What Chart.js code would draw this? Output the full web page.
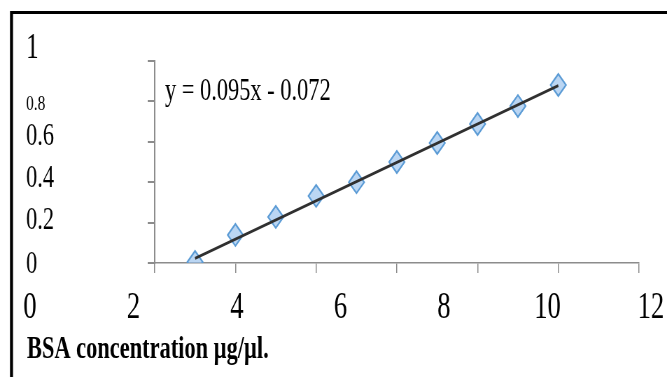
<!DOCTYPE html>
<html>
<head>
<meta charset="utf-8">
<script src="https://cdn.jsdelivr.net/npm/chart.js@4"></script>
<style>
  html, body { margin: 0; padding: 0; background: #fff; overflow: hidden; }
  /* the original figure is squeezed sideways, so draw wide and shrink */
  #myChart { width: 667px !important; height: 377px !important; display: block; }
</style>
</head>
<body>
<canvas id="myChart" width="953" height="377"></canvas>
<script>
const concentration = [1, 2, 3, 4, 5, 6, 7, 8, 9, 10];
const absorbance = [0.005, 0.139, 0.228, 0.332, 0.40, 0.50, 0.594, 0.688, 0.777, 0.881];
const trendX = [1, 10];
const trendY = [0.023, 0.878];
const xTickLabels = ['0', '2', '4', '6', '8', '10', '12'];
const yTickLabels = ['1', '0.8', '0.6', '0.4', '0.2', '0'];
const equation = 'y = 0.095x - 0.072';
const xTitle = 'BSA concentration \u00b5g/\u00b5l.';

const SX = 0.7; // horizontal squeeze of the picture
const serif = '"Liberation Serif", "Times New Roman", serif';

const frame = {
  id: 'frame',
  beforeDraw(chart) {
    const c = chart.ctx;
    c.save();
    c.fillStyle = '#000';
    c.fillRect(11 / SX, 11, chart.width, 3);
    c.fillRect(10 / SX, 11, 3 / SX, chart.height);
    c.restore();
  },
};

const labels = {
  id: 'labels',
  afterDraw(chart) {
    const c = chart.ctx;
    c.save();
    c.fillStyle = '#000';
    c.textBaseline = 'alphabetic';

    // y labels, placed as in the original (not on the ticks)
    const ySizes = [36, 22, 32, 32, 32, 32];
    const yBase = [58, 110, 145, 187, 229, 273];
    c.textAlign = 'left';
    yTickLabels.forEach((t, i) => {
      c.font = ySizes[i] + 'px ' + serif;
      c.fillText(t, 26 / SX, yBase[i]);
    });

    // x labels
    c.textAlign = 'center';
    c.font = '38px ' + serif;
    xTickLabels.forEach((t, i) => {
      c.fillText(t, (30 + i * 103.5) / SX, 318);
    });

    // equation
    c.textAlign = 'left';
    c.font = '32px ' + serif;
    c.fillText(equation, 165 / SX, 100);

    // axis title
    c.font = 'bold 32px ' + serif;
    c.fillText(xTitle, 27 / SX, 358);
    c.restore();
  },
};

const axisColor = '#8c8c8c';

const ctx = document.getElementById('myChart').getContext('2d');
const myChart = new Chart(ctx, {
  type: 'scatter',
  data: {
    datasets: [
      {
        label: 'Linear',
        data: trendX.map((x, i) => ({ x: x, y: trendY[i] })),
        showLine: true,
        borderColor: '#303030',
        borderWidth: 3,
        pointRadius: 0,
      },
      {
        label: 'BSA',
        data: concentration.map((x, i) => ({ x: x, y: absorbance[i] })),
        pointStyle: 'rectRot',
        pointRadius: 11,
        borderWidth: 2,
        borderColor: '#5b9bd5',
        backgroundColor: 'rgba(150, 192, 236, 0.65)',
      },
    ],
  },
  options: {
    responsive: false,
    animation: false,
    devicePixelRatio: 1,
    layout: {
      padding: { left: 211, right: 40, top: 61, bottom: 104 },
    },
    plugins: {
      legend: { display: false },
      tooltip: { enabled: false },
    },
    scales: {
      x: {
        type: 'linear',
        min: 0,
        max: 12,
        ticks: { display: false, stepSize: 2 },
        grid: { drawOnChartArea: false, color: axisColor, tickLength: 10, lineWidth: 1.5 },
        border: { color: axisColor, width: 1.5 },
        afterFit(scale) { scale.height = 10; },
      },
      y: {
        type: 'linear',
        min: 0,
        max: 1,
        ticks: { display: false, stepSize: 0.2 },
        grid: { drawOnChartArea: false, color: axisColor, tickLength: 10, lineWidth: 2 },
        border: { color: axisColor, width: 2 },
        afterFit(scale) { scale.width = 10; },
      },
    },
  },
  plugins: [frame, labels],
});
</script>
</body>
</html>
